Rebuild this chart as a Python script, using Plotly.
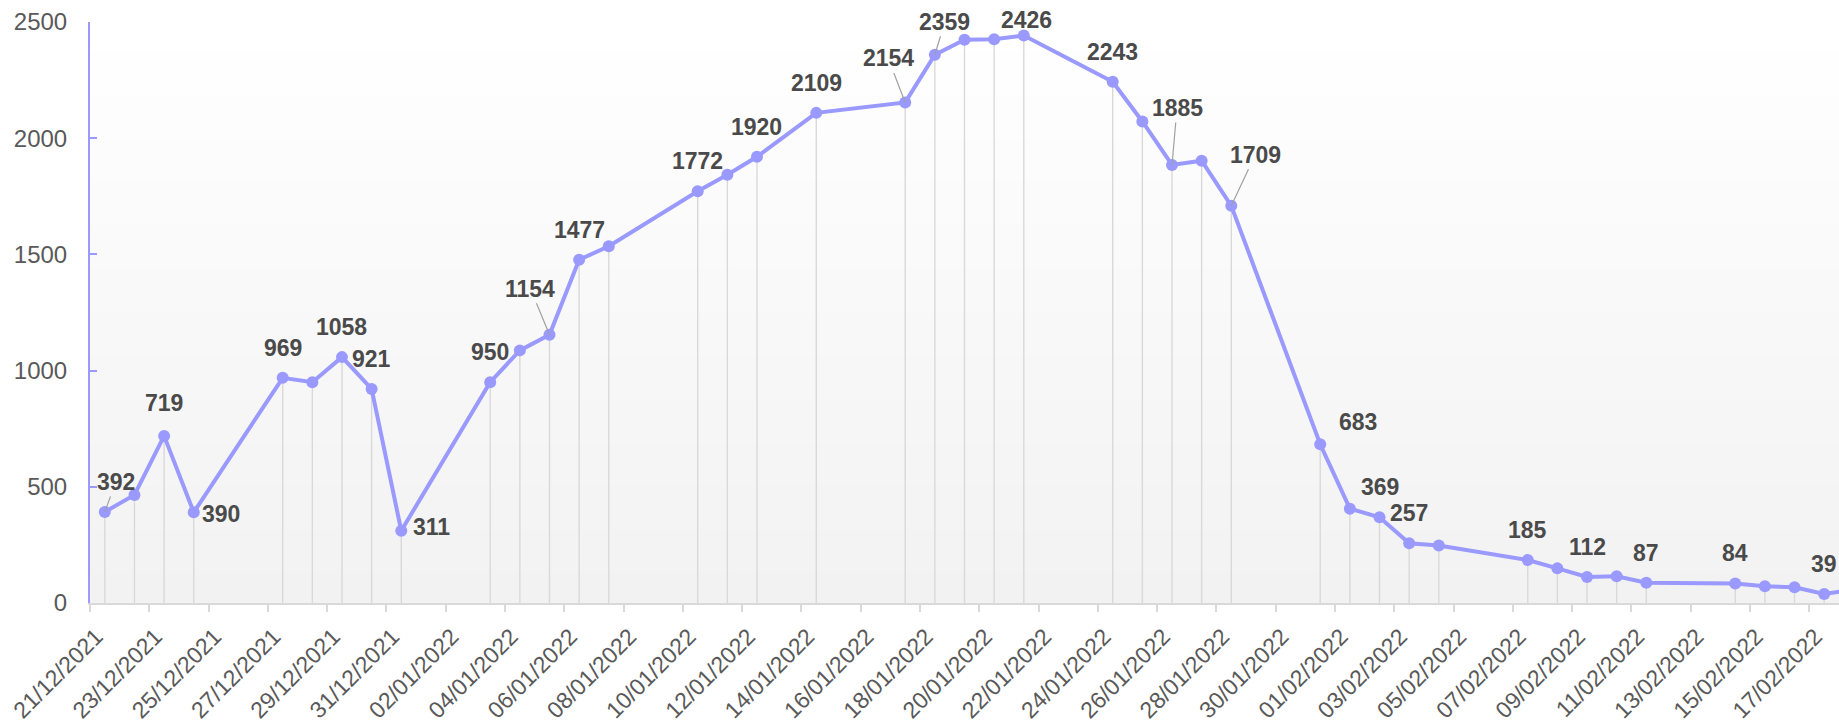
import datetime as dt
import plotly.graph_objects as go

# ---------------- data ----------------
dates = [
    "2021-12-21", "2021-12-22", "2021-12-23", "2021-12-24", "2021-12-27",
    "2021-12-28", "2021-12-29", "2021-12-30", "2021-12-31", "2022-01-03",
    "2022-01-04", "2022-01-05", "2022-01-06", "2022-01-07", "2022-01-10",
    "2022-01-11", "2022-01-12", "2022-01-14", "2022-01-17", "2022-01-18",
    "2022-01-19", "2022-01-20", "2022-01-21", "2022-01-24", "2022-01-25",
    "2022-01-26", "2022-01-27", "2022-01-28", "2022-01-31", "2022-02-01",
    "2022-02-02", "2022-02-03", "2022-02-04", "2022-02-07", "2022-02-08",
    "2022-02-09", "2022-02-10", "2022-02-11", "2022-02-14", "2022-02-15",
    "2022-02-16", "2022-02-17", "2022-02-18",
]
values = [
    392, 465, 719, 390, 969,
    950, 1058, 921, 311, 950,
    1087, 1154, 1477, 1535, 1772,
    1843, 1920, 2109, 2154, 2359,
    2424, 2426, 2442, 2243, 2072,
    1885, 1903, 1709, 683, 406,
    369, 257, 247, 185, 149,
    112, 115, 87, 84, 72,
    68, 39, 57,
]

# points that carry a data label
label_dates = [
    "2021-12-21", "2021-12-23", "2021-12-24", "2021-12-27", "2021-12-29",
    "2021-12-30", "2021-12-31", "2022-01-03", "2022-01-05", "2022-01-06",
    "2022-01-10", "2022-01-12", "2022-01-14", "2022-01-17", "2022-01-18",
    "2022-01-20", "2022-01-24", "2022-01-26", "2022-01-28", "2022-01-31",
    "2022-02-02", "2022-02-03", "2022-02-07", "2022-02-09", "2022-02-11",
    "2022-02-14", "2022-02-17",
]

x_tick_labels = [
    "21/12/2021", "23/12/2021", "25/12/2021", "27/12/2021", "29/12/2021",
    "31/12/2021", "02/01/2022", "04/01/2022", "06/01/2022", "08/01/2022",
    "10/01/2022", "12/01/2022", "14/01/2022", "16/01/2022", "18/01/2022",
    "20/01/2022", "22/01/2022", "24/01/2022", "26/01/2022", "28/01/2022",
    "30/01/2022", "01/02/2022", "03/02/2022", "05/02/2022", "07/02/2022",
    "09/02/2022", "11/02/2022", "13/02/2022", "15/02/2022", "17/02/2022",
]
y_ticks = [0, 500, 1000, 1500, 2000, 2500]

# ---------------- style ----------------
LINE_COLOR = "#9999ff"
DROP_COLOR = "#d9d9d9"
FAMILY = "Liberation Sans, Arial, sans-serif"
Y_TICK_FONT = dict(family=FAMILY, size=24, color="#595959")
X_TICK_FONT = dict(family=FAMILY, size=23, color="#595959")
LABEL_FONT = dict(family=FAMILY, size=23, color="#4a4a4a", weight="bold")
DAY_MS = 86400000
LABEL_NUDGE = dt.timedelta(hours=-7)   # small horizontal nudge of rotated tick labels

# label placement (pixel offset of label centre from its point, leader line?)
label_style = {
    "2021-12-21": (11, -30, True),
    "2021-12-23": (0, -33, False),
    "2021-12-24": (27, 2, False),
    "2021-12-31": (30, -4, False),
    "2022-01-05": (-19, -46, True),
    "2022-01-17": (-17, -44, True),
    "2022-01-18": (10, -33, True),
    "2022-01-20": (32, -19, False),
    "2022-01-26": (5, -57, True),
    "2022-01-28": (24, -51, True),
    "2022-01-31": (38, -22, False),
}
default_style = (0, -30, False)

fig = go.Figure()

# background gradient (white at top to light grey at bottom)
n_strips = 80
shapes = []
for i in range(n_strips):
    t = i / (n_strips - 1)
    c = int(round(242 + (255 - 242) * t))
    shapes.append(dict(
        type="rect", xref="paper", yref="paper",
        x0=0, x1=1, y0=i / n_strips, y1=(i + 1) / n_strips + 0.002,
        fillcolor=f"rgb({c},{c},{c})", line=dict(width=0), layer="below",
    ))

# drop lines from each point to the axis
drop_x, drop_y = [], []
for d, v in zip(dates, values):
    drop_x += [d, d, None]
    drop_y += [0, v, None]
fig.add_trace(go.Scatter(
    x=drop_x, y=drop_y, mode="lines",
    line=dict(color=DROP_COLOR, width=1.4),
    hoverinfo="skip", showlegend=False,
))

# main series
fig.add_trace(go.Scatter(
    x=dates, y=values, mode="lines+markers",
    line=dict(color=LINE_COLOR, width=4),
    marker=dict(color=LINE_COLOR, size=12),
    showlegend=False,
))

# data labels
value_of = dict(zip(dates, values))
annotations = []
for d in label_dates:
    v = value_of[d]
    dx, dy, leader = label_style.get(d, default_style)
    if leader:
        annotations.append(dict(
            x=d, y=v, xref="x", yref="y", text=str(v), font=LABEL_FONT,
            showarrow=True, ax=dx, ay=dy, axref="pixel", ayref="pixel",
            arrowhead=0, arrowwidth=1.2, arrowcolor="#a0a0a0", standoff=0,
        ))
    else:
        annotations.append(dict(
            x=d, y=v, xref="x", yref="y", text=str(v), font=LABEL_FONT,
            showarrow=False, xshift=dx, yshift=-dy,
            xanchor="center", yanchor="middle",
        ))

# tick label positions (day centres, nudged slightly)
tick_positions = [
    (dt.datetime.strptime(s, "%d/%m/%Y") + LABEL_NUDGE).strftime("%Y-%m-%d %H:%M")
    for s in x_tick_labels
]

fig.update_layout(
    width=1839, height=724,
    margin=dict(l=90, r=0, t=22, b=121, pad=0),
    paper_bgcolor="white",
    plot_bgcolor="rgba(0,0,0,0)",
    shapes=shapes,
    annotations=annotations,
    xaxis=dict(
        type="date",
        range=["2021-12-20 12:00", "2022-02-17 12:00"],
        tickvals=tick_positions, ticktext=x_tick_labels,
        tickangle=-45,
        tickfont=X_TICK_FONT,
        ticks="", showgrid=False, zeroline=False,
        showline=True, linecolor=DROP_COLOR, linewidth=2,
        ticklabelstandoff=9,
        automargin=False,
        minor=dict(
            ticks="outside", tick0="2021-12-20 12:00", dtick=2 * DAY_MS,
            ticklen=7, tickwidth=2, tickcolor=DROP_COLOR, showgrid=False,
        ),
    ),
    yaxis=dict(
        range=[0, 2500],
        tickvals=y_ticks,
        tickfont=Y_TICK_FONT,
        ticks="inside", ticklen=7, tickwidth=2, tickcolor=LINE_COLOR,
        showline=True, linecolor=LINE_COLOR, linewidth=2,
        showgrid=False, zeroline=False,
        ticklabelstandoff=16,
        automargin=False,
    ),
)

fig.write_html(
    "out.html",
    config={"displayModeBar": False},
    post_script="document.body.style.margin='0';document.body.style.overflow='hidden';",
)
